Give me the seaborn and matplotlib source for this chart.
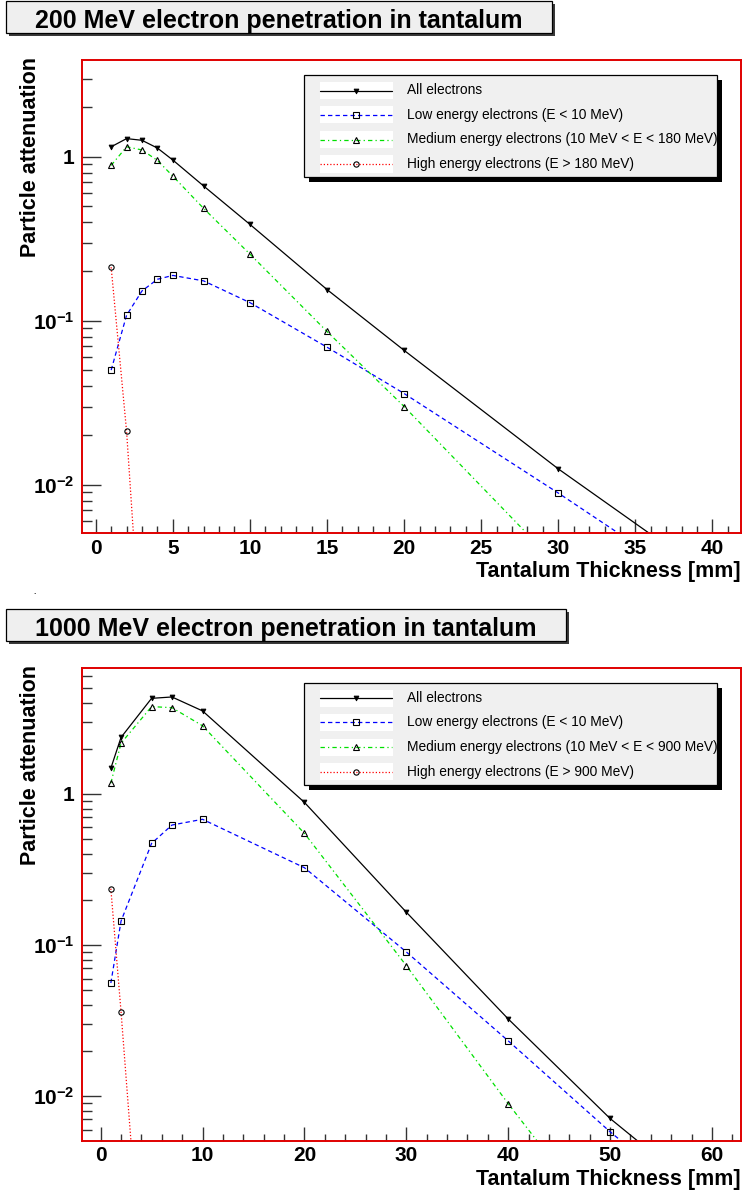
import matplotlib
matplotlib.use("Agg")
import numpy as np
import pandas as pd
import seaborn as sns
import matplotlib.pyplot as plt
from matplotlib.patches import Rectangle
from matplotlib.lines import Line2D
from matplotlib.transforms import Bbox
from matplotlib.ticker import LogLocator, MultipleLocator, FuncFormatter, NullFormatter

# ---------------- data ----------------
x200 = [1, 2, 3, 4, 5, 7, 10, 15, 20, 30, 40]
all200 = [1.15, 1.29, 1.26, 1.13, 0.955, 0.663, 0.387, 0.155, 0.066, 0.0125, 0.0027]
low200 = [0.050, 0.108, 0.152, 0.179, 0.189, 0.175, 0.129, 0.069, 0.036, 0.0089, 0.0021]
med200 = [0.886, 1.15, 1.10, 0.95, 0.762, 0.484, 0.255, 0.086, 0.030, 0.0032, 0.0003]
xhigh200 = [1, 2, 3]
high200 = [0.212, 0.0212, 0.00083]

x1000 = [1, 2, 5, 7, 10, 20, 30, 40, 50, 60]
all1000 = [1.48, 2.37, 4.30, 4.39, 3.55, 0.88, 0.165, 0.0324, 0.0071, 0.0020]
low1000 = [0.056, 0.144, 0.471, 0.623, 0.68, 0.325, 0.090, 0.0232, 0.0058, 0.0016]
med1000 = [1.18, 2.17, 3.79, 3.73, 2.83, 0.549, 0.073, 0.0089, 0.0012, 0.0002]
xhigh1000 = [1, 2, 5]
high1000 = [0.236, 0.0362, 0.000083]

titles = ["200 MeV electron penetration in tantalum",
          "1000 MeV electron penetration in tantalum"]
labels200 = ["All electrons", "Low energy electrons (E < 10 MeV)",
             "Medium energy electrons (10 MeV < E < 180 MeV)",
             "High energy electrons (E > 180 MeV)"]
labels1000 = ["All electrons", "Low energy electrons (E < 10 MeV)",
              "Medium energy electrons (10 MeV < E < 900 MeV)",
              "High energy electrons (E > 900 MeV)"]
xlabel = "Tantalum Thickness [mm]"
ylabel = "Particle attenuation"

# ---------------- style ----------------
sns.set_theme(style="white")
plt.rcParams["font.family"] = ["Liberation Sans", "DejaVu Sans"]
plt.rcParams["font.weight"] = "bold"
plt.rcParams["text.color"] = "black"
plt.rcParams["axes.labelcolor"] = "black"
plt.rcParams["xtick.color"] = "black"
plt.rcParams["ytick.color"] = "black"
plt.rcParams["mathtext.fontset"] = "custom"
plt.rcParams["mathtext.rm"] = "Liberation Sans:bold"
plt.rcParams["mathtext.bf"] = "Liberation Sans:bold"
plt.rcParams["mathtext.default"] = "bf"

W, H = 745, 1194
fig = plt.figure(figsize=(W / 100, H / 100), dpi=100)
fig.patch.set_facecolor("white")

styles = [
    dict(color="black", linestyle="-", lw=0.9, marker="v", ms=3.5,
         mfc="black", mec="black", mew=0.6),
    dict(color="blue", linestyle=(0, (3.5, 2.5)), lw=0.9, marker="s", ms=4.8,
         mfc="none", mec="black", mew=0.8),
    dict(color="#00e000", linestyle=(0, (3.5, 2.5, 1, 2.5)), lw=0.9, marker="^", ms=4.8,
         mfc="none", mec="black", mew=0.8),
    dict(color="red", linestyle=(0, (1, 1.6)), lw=0.9, marker="o", ms=3.8,
         mfc="none", mec="black", mew=0.8),
]


def fx(x):
    return x / W


def fy(y):
    return 1 - y / H


def add_rect(x, y, w, h, **kw):
    r = Rectangle((fx(x), fy(y + h)), w / W, h / H, transform=fig.transFigure, **kw)
    fig.add_artist(r)
    return r


def ylab_fmt(v, pos):
    e = int(round(np.log10(v)))
    if e == 0:
        return "1"
    return r"$10^{%d}$" % e


def make_panel(ax_top_px, ylim, xlim, xmaj, xmin_, series, title, labels, title_top):
    ax = fig.add_axes([fx(81.7), fy(ax_top_px + 473), (741 - 81.7) / W, 473 / H])
    ax.set_yscale("log")
    for (xs, ys), st in zip(series, styles):
        df = pd.DataFrame({"x": xs, "y": ys})
        sns.lineplot(data=df, x="x", y="y", ax=ax, legend=False, **st)
    ax.set_xlim(*xlim)
    ax.set_ylim(*ylim)
    ax.set_xlabel("")
    ax.set_ylabel("")
    ax.xaxis.set_major_locator(MultipleLocator(xmaj))
    ax.xaxis.set_minor_locator(MultipleLocator(xmin_))
    ax.yaxis.set_major_locator(LogLocator(base=10, numticks=20))
    ax.yaxis.set_minor_locator(LogLocator(base=10, subs=np.arange(2, 10), numticks=20))
    ax.yaxis.set_major_formatter(FuncFormatter(ylab_fmt))
    ax.yaxis.set_minor_formatter(NullFormatter())
    ax.tick_params(axis="x", which="major", direction="in", length=10, width=1,
                   color="#333333", labelcolor="black", labelsize=15, pad=4,
                   bottom=True, top=False)
    ax.tick_params(axis="x", which="minor", direction="in", length=4.8, width=1,
                   color="#333333", bottom=True, top=False)
    ax.tick_params(axis="y", which="major", direction="in", length=14, width=1,
                   color="#333333", labelcolor="black", labelsize=15, pad=5,
                   left=True, right=False)
    ax.tick_params(axis="y", which="minor", direction="in", length=7, width=1,
                   color="#333333", left=True, right=False)
    for s in ax.spines.values():
        s.set_visible(True)
        s.set_color("#e00000")
        s.set_linewidth(1.4)
    ax.grid(False)

    # axis titles
    fig.text(fx(741), fy(ax_top_px + 512), xlabel, ha="right", va="center",
             fontsize=15.5, fontweight="bold", color="black")
    fig.text(fx(31), fy(ax_top_px - 3), ylabel, rotation=90, ha="center", va="top",
             fontsize=15.5, fontweight="bold", color="black")

    # title box
    t = fig.text(0, 0, title, fontsize=18, fontweight="bold", ha="center",
                 va="baseline", color="black", zorder=5)
    fig.canvas.draw()
    w = t.get_window_extent(fig.canvas.get_renderer()).width
    left, bw, bh = 6, w + 58, 32
    add_rect(left + 3, title_top + 3, bw, bh, fc="#3a3a3a", ec="none", zorder=3)
    add_rect(left, title_top, bw, bh, fc="#efefef", ec="black", lw=0.9, zorder=4)
    t.set_position((fx(left + bw / 2), fy(title_top + 27.3)))

    # legend box
    ltop = ax_top_px + 15
    lleft, lright, lh = 304, 717, 102
    add_rect(lleft + 5, ltop + 5, lright - lleft, lh, fc="black", ec="none", zorder=3)
    add_rect(lleft, ltop, lright - lleft, lh, fc="#f0f0f0", ec="black", lw=0.9, zorder=4)
    clip = Bbox.from_extents(lleft, H - (ltop + lh), lright, H - ltop)
    rows = [15.5, 39.5, 64.5, 89]
    for r, lab, st in zip(rows, labels, styles):
        y = ltop + r
        add_rect(320, y - 8.5, 73, 17, fc="white", ec="none", zorder=5)
        lst = {k: v for k, v in st.items() if not k.startswith("m")}
        fig.add_artist(Line2D([fx(320), fx(392)], [fy(y), fy(y)],
                              transform=fig.transFigure, zorder=6, **lst))
        mst = {k: v for k, v in st.items() if k.startswith("m")}
        fig.add_artist(Line2D([fx(356)], [fy(y)], linestyle="none",
                              transform=fig.transFigure, zorder=7, **mst))
        tx = fig.text(fx(407), fy(y), lab, ha="left", va="center", fontsize=9.9,
                      fontweight="normal", color="black", zorder=8)
        tx.set_clip_box(clip)
        tx.set_clip_on(True)
    return ax


make_panel(60, (0.00508, 3.89), (-0.91, 41.85), 5, 1,
           [(x200, all200), (x200, low200), (x200, med200), (xhigh200, high200)],
           titles[0], labels200, 1)
make_panel(667.7, (0.00506, 6.86), (-1.86, 62.85), 10, 2,
           [(x1000, all1000), (x1000, low1000), (x1000, med1000), (xhigh1000, high1000)],
           titles[1], labels1000, 609)

fig.text(fx(35), fy(593), ".", fontsize=6, ha="center", va="center", color="black")

fig.savefig("out.png", dpi=100)
